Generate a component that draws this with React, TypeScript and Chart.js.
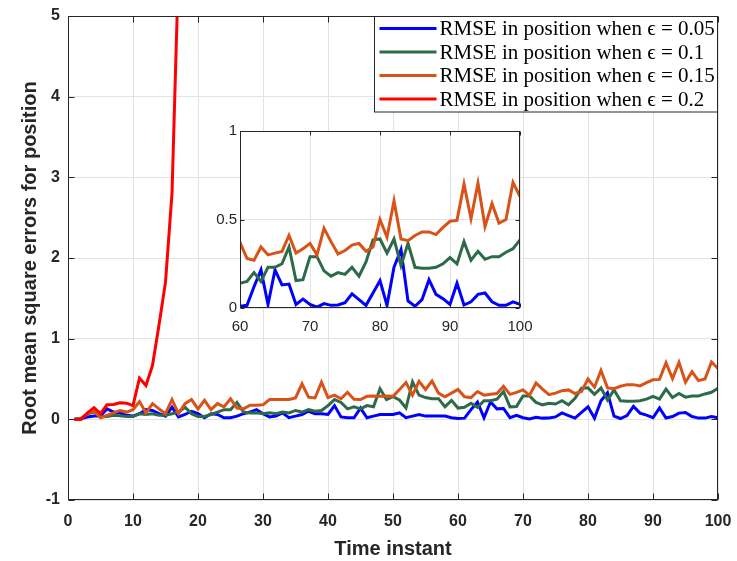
import React, { useEffect, useRef } from 'react';
import { Chart, registerables } from 'chart.js';
Chart.register(...registerables);

const timeInstants: number[] = Array.from({ length: 100 }, (_, i) => i + 1);

const rmse005: number[] = [
  0, 0.005, 0.03, 0.04, 0.04, 0.13, 0.09, 0.08, 0.05, 0.04,
  0.07, 0.12, 0.11, 0.07, 0.04, 0.15, 0.03, 0.06, 0.10, 0.07,
  0.02, 0.07, 0.06, 0.02, 0.02, 0.04, 0.07, 0.09, 0.12, 0.07,
  0.03, 0.04, 0.08, 0.02, 0.04, 0.06, 0.10, 0.07, 0.07, 0.06,
  0.17, 0.03, 0.02, 0.02, 0.14, 0.02, 0.04, 0.06, 0.06, 0.06,
  0.08, 0.02, 0.04, 0.06, 0.04, 0.04, 0.04, 0.04, 0.02, 0.01,
  0.015, 0.12, 0.215, 0.02, 0.215, 0.13, 0.135, 0.02, 0.05, 0.02,
  0.005, 0.025, 0.015, 0.017, 0.03, 0.08, 0.047, 0.015, 0.085, 0.155,
  0.015, 0.23, 0.33, 0.04, 0.01, 0.047, 0.16, 0.077, 0.053, 0.02,
  0.14, 0.017, 0.035, 0.077, 0.085, 0.035, 0.015, 0.015, 0.035, 0.02,
];

const rmse01: number[] = [
  0, 0.01, 0.07, 0.09, 0.03, 0.035, 0.05, 0.045, 0.035, 0.035,
  0.07, 0.06, 0.07, 0.05, 0.05, 0.07, 0.09, 0.15, 0.07, 0.035,
  0.035, 0.06, 0.09, 0.12, 0.12, 0.21, 0.09, 0.08, 0.08, 0.07,
  0.08, 0.07, 0.09, 0.08, 0.11, 0.09, 0.12, 0.10, 0.11, 0.17,
  0.245, 0.21, 0.13, 0.155, 0.13, 0.17, 0.155, 0.38, 0.245, 0.28,
  0.24, 0.14, 0.465, 0.30, 0.27, 0.256, 0.256, 0.155, 0.235, 0.14,
  0.15, 0.20, 0.15, 0.23, 0.23, 0.25, 0.345, 0.155, 0.16, 0.29,
  0.29, 0.21, 0.18, 0.20, 0.19, 0.23, 0.18, 0.26, 0.385, 0.39,
  0.31, 0.39, 0.24, 0.365, 0.23, 0.225, 0.225, 0.23, 0.25, 0.285,
  0.25, 0.375, 0.27, 0.32, 0.275, 0.29, 0.29, 0.315, 0.335, 0.385,
];

const rmse015: number[] = [
  0, 0, 0.07, 0.10, 0.02, 0.05, 0.08, 0.11, 0.09, 0.12,
  0.22, 0.08, 0.195, 0.13, 0.07, 0.245, 0.07, 0.195, 0.245, 0.13,
  0.235, 0.12, 0.195, 0.155, 0.255, 0.14, 0.13, 0.175, 0.175, 0.18,
  0.245, 0.245, 0.245, 0.245, 0.265, 0.44, 0.275, 0.265, 0.46, 0.27,
  0.30, 0.255, 0.335, 0.25, 0.245, 0.285, 0.29, 0.285, 0.29, 0.285,
  0.37, 0.457, 0.30, 0.472, 0.37, 0.475, 0.325, 0.28, 0.325, 0.37,
  0.28, 0.27, 0.345, 0.30, 0.31, 0.32, 0.41, 0.31, 0.335, 0.365,
  0.30, 0.45, 0.375, 0.305, 0.325, 0.355, 0.365, 0.32, 0.345, 0.50,
  0.40, 0.605, 0.39, 0.38, 0.41, 0.43, 0.43, 0.415, 0.455, 0.49,
  0.495, 0.70, 0.505, 0.705, 0.46, 0.59, 0.48, 0.50, 0.71, 0.63,
];

const rmse02: number[] = [
  0, 0, 0.08, 0.145, 0.07, 0.18, 0.185, 0.205, 0.2, 0.17,
  0.51, 0.42, 0.67, 1.17, 1.70, 2.80, 5.6, 15, 40,
];

const seriesLabels: string[] = [
  'RMSE in position when \u03F5 = 0.05',
  'RMSE in position when \u03F5 = 0.1',
  'RMSE in position when \u03F5 = 0.15',
  'RMSE in position when \u03F5 = 0.2',
];
const seriesColors: string[] = ['#0000FF', '#2D6A4A', '#D95319', '#FF0000'];

const mainXTicks: number[] = [0, 10, 20, 30, 40, 50, 60, 70, 80, 90, 100];
const mainYTicks: number[] = [-1, 0, 1, 2, 3, 4, 5];
const insetXTicks: number[] = [60, 70, 80, 90, 100];
const insetYTicks: number[] = [0, 0.5, 1];

const AXIS = '#262626';
const GRID = '#e3e3e3';
const SANS = '"Liberation Sans", Arial, sans-serif';

const toPoints = (vals: number[]) => vals.map((v, i) => ({ x: timeInstants[i], y: v }));

const framePlugin = (tickLen: number) => ({
  id: 'frame',
  afterDraw(chart: any) {
    const { ctx, chartArea } = chart;
    const { left, right, top, bottom } = chartArea;
    const xs = chart.scales.x;
    const ys = chart.scales.y;
    const L = Math.round(left) + 0.5;
    const R = Math.round(right) - 0.5;
    const T = Math.round(top) + 0.5;
    const B = Math.round(bottom) - 0.5;
    ctx.save();
    ctx.strokeStyle = AXIS;
    ctx.lineWidth = 1;
    ctx.strokeRect(L, T, R - L, B - T);
    ctx.beginPath();
    xs.ticks.forEach((t: any) => {
      const px = Math.round(xs.getPixelForValue(t.value)) + 0.5;
      ctx.moveTo(px, B); ctx.lineTo(px, B - tickLen);
      ctx.moveTo(px, T); ctx.lineTo(px, T + tickLen);
    });
    ys.ticks.forEach((t: any) => {
      const py = Math.round(ys.getPixelForValue(t.value)) + 0.5;
      ctx.moveTo(L, py); ctx.lineTo(L + tickLen, py);
      ctx.moveTo(R, py); ctx.lineTo(R - tickLen, py);
    });
    ctx.stroke();
    ctx.restore();
  },
});

const legendPlugin = {
  id: 'customLegend',
  afterDraw(chart: any) {
    const { ctx, chartArea } = chart;
    ctx.save();
    ctx.font = '21px "Liberation Serif", serif';
    const maxW = Math.max(...seriesLabels.map((t) => ctx.measureText(t).width));
    const padL = 5, lineLen = 57, gap = 3, padR = 3;
    const boxW = padL + lineLen + gap + maxW + padR;
    const rowH = 23.5;
    const boxH = 12 + rowH * 3 + 13;
    const xr = Math.round(chartArea.right) - 0.5;
    const x0 = Math.round(xr - boxW) + 0.5;
    const y0 = Math.round(chartArea.top) + 0.5;
    ctx.fillStyle = '#ffffff';
    ctx.fillRect(x0, y0, xr - x0, boxH);
    ctx.strokeStyle = AXIS;
    ctx.lineWidth = 1;
    ctx.strokeRect(x0, y0, xr - x0, boxH);
    seriesLabels.forEach((lab, i) => {
      const cy = y0 + 12 + i * rowH;
      ctx.strokeStyle = seriesColors[i];
      ctx.lineWidth = 3;
      ctx.beginPath();
      ctx.moveTo(x0 + padL, cy);
      ctx.lineTo(x0 + padL + lineLen, cy);
      ctx.stroke();
      ctx.fillStyle = '#000000';
      ctx.textBaseline = 'middle';
      ctx.textAlign = 'left';
      ctx.fillText(lab, x0 + padL + lineLen + gap, cy + 1);
    });
    ctx.restore();
  },
};

const whiteAreaPlugin = {
  id: 'whiteArea',
  beforeDraw(chart: any) {
    const { ctx, chartArea } = chart;
    ctx.save();
    ctx.fillStyle = '#ffffff';
    ctx.fillRect(chartArea.left, chartArea.top, chartArea.right - chartArea.left, chartArea.bottom - chartArea.top);
    ctx.restore();
  },
};

export default function App() {
  const mainRef = useRef<HTMLCanvasElement>(null);
  const insetRef = useRef<HTMLCanvasElement>(null);

  useEffect(() => {
    const allSeries = [rmse005, rmse01, rmse015, rmse02];
    const mainChart = new Chart(mainRef.current as HTMLCanvasElement, {
      type: 'line',
      data: {
        datasets: allSeries.map((s, i) => ({
          label: seriesLabels[i],
          data: toPoints(s),
          borderColor: seriesColors[i],
          borderWidth: 3,
          pointRadius: 0,
          tension: 0,
          fill: false,
          order: 4 - i,
        })),
      },
      options: {
        animation: false,
        responsive: true,
        maintainAspectRatio: false,
        events: [],
        layout: { padding: { top: 16, right: 19, left: 0, bottom: 0 } },
        plugins: { legend: { display: false }, tooltip: { enabled: false } },
        scales: {
          x: {
            type: 'linear',
            min: 0,
            max: 100,
            afterBuildTicks: (s: any) => { s.ticks = mainXTicks.map((v) => ({ value: v })); },
            ticks: { color: AXIS, padding: 2, maxRotation: 0, font: { family: SANS, weight: 'bold', size: 16 } },
            grid: { color: GRID, drawTicks: true, tickLength: 10, tickColor: 'rgba(0,0,0,0)' },
            border: { display: false },
            title: {
              display: true,
              text: 'Time instant',
              color: AXIS,
              font: { family: SANS, weight: 'bold', size: 20 },
              padding: { top: 4, bottom: 0 },
            },
            afterFit: (s: any) => { s.height = 61; },
          },
          y: {
            type: 'linear',
            min: -1,
            max: 5,
            afterBuildTicks: (s: any) => { s.ticks = mainYTicks.map((v) => ({ value: v })); },
            ticks: { color: AXIS, padding: 2, font: { family: SANS, weight: 'bold', size: 16 } },
            grid: { color: GRID, drawTicks: true, tickLength: 6, tickColor: 'rgba(0,0,0,0)' },
            border: { display: false },
            title: {
              display: true,
              text: 'Root mean square errors for position',
              color: AXIS,
              font: { family: SANS, weight: 'bold', size: 20 },
              padding: { top: 18, bottom: 0 },
            },
            afterFit: (s: any) => { s.width = 68; },
          },
        },
      } as any,
      plugins: [framePlugin(6), legendPlugin],
    });

    const insetSeries = [rmse005, rmse01, rmse015];
    const insetChart = new Chart(insetRef.current as HTMLCanvasElement, {
      type: 'line',
      data: {
        datasets: insetSeries.map((s, i) => ({
          label: seriesLabels[i],
          data: toPoints(s),
          borderColor: seriesColors[i],
          borderWidth: 3,
          pointRadius: 0,
          tension: 0,
          fill: false,
          order: 3 - i,
        })),
      },
      options: {
        animation: false,
        responsive: true,
        maintainAspectRatio: false,
        events: [],
        layout: { padding: { top: 16, right: 20, left: 0, bottom: 0 } },
        plugins: { legend: { display: false }, tooltip: { enabled: false } },
        scales: {
          x: {
            type: 'linear',
            min: 60,
            max: 100,
            afterBuildTicks: (s: any) => { s.ticks = insetXTicks.map((v) => ({ value: v })); },
            ticks: { color: AXIS, padding: 2, maxRotation: 0, font: { family: SANS, size: 15 }, callback: (v: any) => String(v) },
            grid: { color: GRID, drawTicks: true, tickLength: 8, tickColor: 'rgba(0,0,0,0)' },
            border: { display: false },
            afterFit: (s: any) => { s.height = 37; },
          },
          y: {
            type: 'linear',
            min: 0,
            max: 1,
            afterBuildTicks: (s: any) => { s.ticks = insetYTicks.map((v) => ({ value: v })); },
            ticks: { color: AXIS, padding: 3, font: { family: SANS, size: 15 }, callback: (v: any) => String(v) },
            grid: { color: GRID, drawTicks: false },
            border: { display: false },
            afterFit: (s: any) => { s.width = 40; },
          },
        },
      } as any,
      plugins: [whiteAreaPlugin, framePlugin(4)],
    });

    return () => {
      mainChart.destroy();
      insetChart.destroy();
    };
  }, []);

  return (
    <div style={{ position: 'fixed', left: 0, top: 0, width: 737, height: 561, background: '#ffffff' }}>
      <div style={{ position: 'absolute', left: 0, top: 0, width: 737, height: 561 }}>
        <canvas ref={mainRef} />
      </div>
      <div style={{ position: 'absolute', left: 200, top: 115, width: 340, height: 230 }}>
        <canvas ref={insetRef} />
      </div>
    </div>
  );
}
